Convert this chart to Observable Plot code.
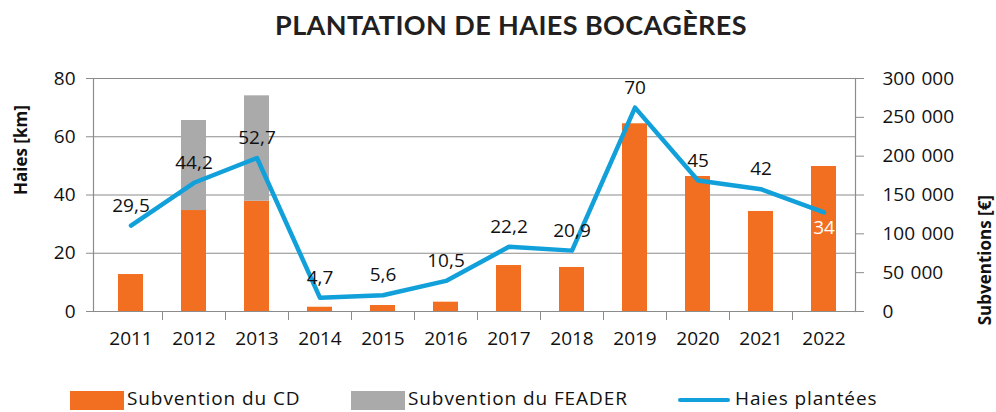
<!DOCTYPE html>
<html>
<head>
<meta charset="utf-8">
<script src="https://cdn.jsdelivr.net/npm/d3@7"></script>
<script src="https://cdn.jsdelivr.net/npm/@observablehq/plot@0.6"></script>
<style>
  html, body { margin: 0; padding: 0; background: #fff; }
  #wrap { position: relative; width: 996px; height: 412px; overflow: hidden; font-family: "Open Sans", sans-serif; }
  #title { position: absolute; left: 0; top: 0; width: 996px; height: 50px; line-height: 50px; text-align: center;
           font-family: Lato, sans-serif; font-weight: 700; font-size: 27px; color: #231f20; letter-spacing: 0.4px; padding-left: 26px; box-sizing: border-box; }
  #chart { position: absolute; left: 0; top: 50px; }
  .lg { position: absolute; top: 385px; height: 26px; display: flex; align-items: center; font-size: 19px; letter-spacing: 0.9px; color: #111; white-space: nowrap; }
  .lg span { line-height: 26px; }
  .sw { width: 54px; height: 19px; margin-right: 3px; margin-top: 4px; flex: none; }
  .ln { width: 52px; height: 4px; border-radius: 2px; margin-right: 5px; margin-top: 4px; flex: none; }
</style>
</head>
<body>
<div id="wrap">
  <div id="title">PLANTATION DE HAIES BOCAGÈRES</div>
  <div id="chart"></div>
  <div class="lg" style="left:70px"><div class="sw" style="background:#f26f21"></div><span>Subvention du CD</span></div>
  <div class="lg" style="left:351px"><div class="sw" style="background:#aaaaaa"></div><span>Subvention du FEADER</span></div>
  <div class="lg" style="left:678px"><div class="ln" style="background:#12a0da"></div><span>Haies plantées</span></div>
</div>
<script>
// ---- data ----
const years = ["2011","2012","2013","2014","2015","2016","2017","2018","2019","2020","2021","2022"];
const subventionCD = [47600, 130000, 142000, 5500, 7700, 12000, 59200, 56700, 241700, 173800, 128800, 186700];
const subventionFEADER = [0, 115900, 135700, 0, 0, 0, 0, 0, 0, 0, 0, 0];
const haiesPlantees = [29.5, 44.2, 52.7, 4.7, 5.6, 10.5, 22.2, 20.9, 70, 45, 42, 34];
const leftTicks = [0, 20, 40, 60, 80];
const rightTicks = [0, 50000, 100000, 150000, 200000, 250000, 300000];
const seriesNames = ["Subvention du CD", "Subvention du FEADER"];

// right axis (euros) mapped onto the left axis (km): 300 000 € <-> 80 km
const EUR_PER_KM = 300000 / 80;

const bars = [];
years.forEach((y, i) => {
  bars.push({year: y, series: seriesNames[0], value: subventionCD[i] / EUR_PER_KM});
  bars.push({year: y, series: seriesNames[1], value: subventionFEADER[i] / EUR_PER_KM});
});
const line = years.map((y, i) => ({year: y, haies: haiesPlantees[i]}));

const frLocale = d3.formatLocale({decimal: ",", thousands: "\u2009\u2009", grouping: [3], currency: ["", " €"]});
const fmtEur = frLocale.format(",d");
const fmtKm = v => String(v).replace(".", ",");

const GRID = "#8c8c8c";
const FS = 19;

const chart = Plot.plot({
  width: 996,
  height: 320,
  marginTop: 28,
  marginBottom: 59,
  marginLeft: 93,
  marginRight: 141,
  style: {fontFamily: "'Open Sans', sans-serif", fontSize: FS + "px", color: "#111", background: "transparent", overflow: "visible"},
  x: {domain: years, paddingInner: 0.6, paddingOuter: 0.3, insetLeft: 6, insetRight: -1, label: null},
  y: {domain: [0, 80], label: null},
  color: {domain: seriesNames, range: ["#f26f21", "#aaaaaa"]},
  marks: [
    Plot.gridY(leftTicks, {stroke: GRID, strokeOpacity: 1, strokeWidth: 1.2}),
    Plot.frame({anchor: "left", stroke: GRID, strokeWidth: 1.2}),
    Plot.frame({anchor: "right", stroke: GRID, strokeWidth: 1.2}),
    Plot.frame({anchor: "bottom", stroke: GRID, strokeWidth: 1.2}),
    Plot.axisY(leftTicks, {anchor: "left", tickSize: 7, tickPadding: 11, stroke: GRID, fill: "#111", fontSize: FS, label: null}),
    Plot.axisY(rightTicks.map(v => v / EUR_PER_KM), {anchor: "right", tickSize: 8, tickPadding: 19, stroke: GRID, fill: "#111", fontSize: FS,
      tickFormat: d => fmtEur(Math.round(d * EUR_PER_KM)), label: null}),
    Plot.axisX(years.slice(1), {anchor: "bottom", tickSize: 9, dx: -31.5, stroke: GRID, tickFormat: () => "", label: null}),
    Plot.axisX(years, {anchor: "bottom", tickSize: 0, tickPadding: 20, fill: "#111", fontSize: FS, label: null}),
    Plot.barY(bars, {x: "year", y: "value", fill: "series", order: seriesNames}),
    Plot.line(line, {x: "year", y: "haies", stroke: "#12a0da", strokeWidth: 4.5, strokeLinejoin: "round", strokeLinecap: "round"}),
    Plot.text(line.slice(0, -1), {x: "year", y: "haies", text: d => fmtKm(d.haies), dy: -20, fill: "#111", fontSize: FS}),
    Plot.text(line.slice(-1), {x: "year", y: "haies", text: d => fmtKm(d.haies), dy: 15, fill: "#fff", fontSize: FS}),
    Plot.text(["Haies [km]"], {frameAnchor: "left", dx: -72, rotate: -90, fontWeight: "bold", fontSize: 17, fill: "#111"}),
    Plot.text(["Subventions [€]"], {frameAnchor: "right", dx: 130, rotate: -90, fontWeight: "bold", fontSize: 17, fill: "#111"})
  ]
});
document.getElementById("chart").appendChild(chart);
</script>
</body>
</html>
